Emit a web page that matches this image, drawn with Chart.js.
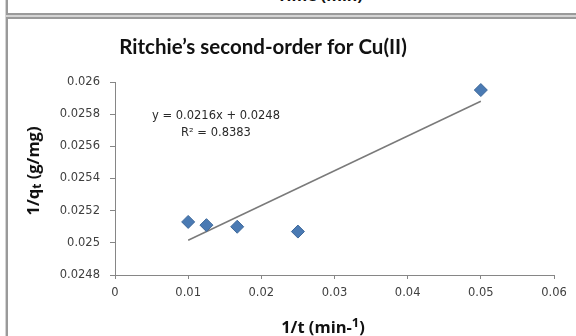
<!DOCTYPE html>
<html>
<head>
<meta charset="utf-8">
<script src="https://cdn.jsdelivr.net/npm/chart.js@4"></script>
<style>
  html, body { margin: 0; padding: 0; background: #fff; width: 576px; height: 336px; overflow: hidden; }
  .frame { position: absolute; left: 6px; width: 600px; border: 2px solid #9a9a9a; box-shadow: 0 0 0 1px #d4d4d4; }
  #topFrame { top: -20px; height: 31px; }
  #mainFrame { top: 17px; height: 400px; }
  #prevTitle { position: absolute; top: -16px; left: 220px; width: 200px; text-align: center; font: bold 16px "Open Sans", sans-serif; color: #111; }
  #wrap { position: absolute; left: 0; top: 0; width: 576px; height: 336px; }
</style>
</head>
<body>
<div class="frame" id="topFrame"></div>
<div id="prevTitle">Time (min)</div>
<div class="frame" id="mainFrame"></div>
<div id="wrap"><canvas id="kinChart" width="576" height="336"></canvas></div>
<script>
// 1/t vs 1/qt for Cu(II)
const invT = [0.01, 0.0125, 0.0167, 0.025, 0.05];
const invQ = [0.02513, 0.02511, 0.02510, 0.02507, 0.02595];

// linear fit shown on the chart
const fitSlope = 0.0216;
const fitIntercept = 0.0248;
const fitR2 = '0.8383';
const fitRange = [0.01, 0.05];

const yTickLabels = ['0.026', '0.0258', '0.0256', '0.0254', '0.0252', '0.025', '0.0248'];
const xTickLabels = ['0', '0.01', '0.02', '0.03', '0.04', '0.05', '0.06'];

const axisGray = '#868686';
const labelColor = '#404040';
const smallFont = '"DejaVu Sans", sans-serif';
const boldFont = '"Open Sans", sans-serif';

// draws a list of [text, font, dy] runs one after another, centred on x
function drawRuns(ctx, runs, x, y) {
  let total = 0;
  runs.forEach(r => { ctx.font = r[1]; total += ctx.measureText(r[0]).width; });
  let cx = x - total / 2;
  ctx.textAlign = 'left';
  runs.forEach(r => {
    ctx.font = r[1];
    ctx.fillText(r[0], cx, y + r[2]);
    cx += ctx.measureText(r[0]).width;
  });
}

const textPlugin = {
  id: 'chartTexts',
  afterDraw(chart) {
    const ctx = chart.ctx;
    ctx.save();
    ctx.textBaseline = 'middle';
    ctx.fillStyle = '#111';
    ctx.textAlign = 'center';
    ctx.font = 'bold 20.5px Lato, sans-serif';
    ctx.fillText('Ritchie\u2019s second-order for Cu(II)', 263, 47);

    // fit equation
    ctx.fillStyle = '#2a2a2a';
    ctx.font = '11.5px ' + smallFont;
    ctx.fillText('y = ' + fitSlope + 'x + ' + fitIntercept, 216, 116);
    ctx.fillText('R\u00b2 = ' + fitR2, 216, 133);

    // x axis title with superscript
    ctx.fillStyle = '#111';
    drawRuns(ctx, [
      ['1/t (min-', 'bold 16.5px ' + boldFont, 0],
      ['1', 'bold 13px ' + boldFont, -5],
      [')', 'bold 16.5px ' + boldFont, 0]
    ], 323, 328);

    // y axis title with subscript
    ctx.translate(34, 171);
    ctx.rotate(-Math.PI / 2);
    drawRuns(ctx, [
      ['1/q', 'bold 16.5px ' + boldFont, 0],
      ['t', 'bold 12px ' + boldFont, 4],
      [' (g/mg)', 'bold 16.5px ' + boldFont, 0]
    ], 0, 0);
    ctx.restore();
  }
};

new Chart(document.getElementById('kinChart'), {
  type: 'scatter',
  data: {
    datasets: [
      {
        label: 'Cu(II)',
        data: invT.map((x, i) => ({ x: x, y: invQ[i] })),
        pointStyle: 'rectRot',
        pointRadius: 6.5,
        backgroundColor: '#4a7ab3',
        borderColor: '#3d6799',
        borderWidth: 1,
        order: 1
      },
      {
        label: 'Linear fit',
        type: 'line',
        data: fitRange.map(x => ({ x: x, y: fitSlope * x + fitIntercept })),
        borderColor: '#7a7a7a',
        borderWidth: 1.5,
        pointRadius: 0,
        fill: false,
        order: 2
      }
    ]
  },
  options: {
    responsive: false,
    animation: false,
    layout: { padding: { left: 0, top: 82, right: 22, bottom: 0 } },
    plugins: { legend: { display: false }, tooltip: { enabled: false } },
    scales: {
      x: {
        type: 'linear',
        min: 0, max: 0.06,
        afterFit: s => { s.height = 61; },
        border: { color: axisGray, width: 1 },
        grid: { drawOnChartArea: false, color: axisGray, tickLength: 4 },
        ticks: {
          stepSize: 0.01,
          padding: 7,
          color: labelColor,
          font: { family: smallFont, size: 11.5 },
          maxRotation: 0,
          callback: (v, i) => xTickLabels[i]
        }
      },
      y: {
        type: 'linear',
        min: 0.0248, max: 0.026,
        afterFit: s => { s.width = 115; },
        border: { color: axisGray, width: 1 },
        grid: { drawOnChartArea: false, color: axisGray, tickLength: 5 },
        ticks: {
          stepSize: 0.0002,
          padding: 10,
          color: labelColor,
          font: { family: smallFont, size: 11.5 },
          callback: (v, i, all) => yTickLabels[all.length - 1 - i]
        }
      }
    }
  },
  plugins: [textPlugin]
});
</script>
</body>
</html>
